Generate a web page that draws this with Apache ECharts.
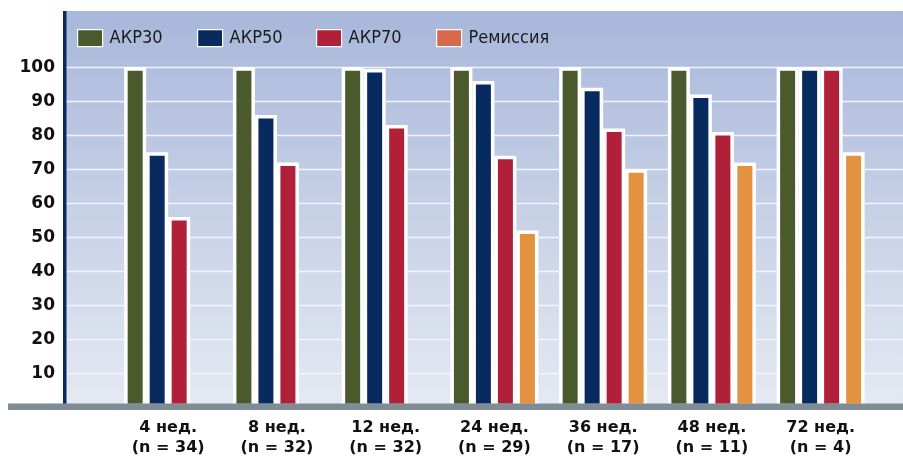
<!DOCTYPE html>
<html>
<head>
<meta charset="utf-8">
<script src="https://cdn.jsdelivr.net/npm/echarts@6/dist/echarts.min.js"></script>
<style>
  html, body { margin: 0; padding: 0; background: #ffffff; }
  #chart { width: 903px; height: 460px; }
</style>
</head>
<body>
<div id="chart"></div>
<script>
// Weeks of therapy and group sizes (x-axis categories)
const weeks = ['4 нед.', '8 нед.', '12 нед.', '24 нед.', '36 нед.', '48 нед.', '72 нед.'];
const patients = [34, 32, 32, 29, 17, 11, 4];

// Response rates, %
const seriesNames = ['АКР30', 'АКР50', 'АКР70', 'Ремиссия'];
const acr30 = [100, 100, 100, 100, 100, 100, 100];
const acr50 = [75, 86, 99.5, 96, 94, 92, 100];
const acr70 = [56, 72, 83, 74, 82, 81, 100];
const remission = [null, null, null, 52, 70, 72, 75];

// Value-axis ticks
const yTicks = [10, 20, 30, 40, 50, 60, 70, 80, 90, 100];

const barColors = ['#4a5a2d', '#072b5e', '#b02039', '#e3923f'];
const legendColors = ['#4a5a2d', '#072b5e', '#b02039', '#d9694c'];
const seriesData = [acr30, acr50, acr70, remission];

const categories = weeks.map((w, i) => w + '\n(n = ' + patients[i] + ')');

const chart = echarts.init(document.getElementById('chart'), null, { renderer: 'canvas' });

const plotTop = 67.3;
const plotBottom = 460 - 407.3;
const legendLeft = [77, 197, 316, 436];

const option = {
  animation: false,
  backgroundColor: '#ffffff',
  graphic: [
    {
      type: 'rect', z: -10,
      shape: { x: 63, y: 11, width: 840, height: 393 },
      style: {
        fill: new echarts.graphic.LinearGradient(0, 0, 0, 1, [
          { offset: 0, color: '#a8b7da' },
          { offset: 1, color: '#e4e9f2' }
        ])
      }
    },
    {
      type: 'rect', z: 20,
      shape: { x: 63, y: 11, width: 3.5, height: 393 },
      style: { fill: '#0a2a5e' }
    },
    {
      type: 'rect', z: 20,
      shape: { x: 8, y: 403.5, width: 895, height: 6.5 },
      style: { fill: '#7f8c95' }
    }
  ],
  legend: seriesNames.map((name, i) => ({
    left: legendLeft[i],
    top: 29,
    padding: 0,
    itemWidth: 25,
    itemHeight: 17,
    icon: 'rect',
    textStyle: {
      fontFamily: 'DejaVu Sans Condensed, DejaVu Sans',
      fontSize: 18,
      color: '#1a1a1a',
      padding: [0, 0, 0, 2]
    },
    data: [{
      name: name,
      itemStyle: { color: legendColors[i], borderColor: '#ffffff', borderWidth: 1.2 }
    }]
  })),
  grid: [
    { left: 66, right: 0, top: plotTop, bottom: plotBottom },
    { left: 113.8, right: 28, top: plotTop, bottom: plotBottom }
  ],
  xAxis: [
    { type: 'value', gridIndex: 0, show: false, min: 0, max: 1 },
    {
      type: 'category', gridIndex: 1, data: categories,
      axisLine: { show: false }, axisTick: { show: false },
      axisLabel: {
        margin: 11,
        fontFamily: 'DejaVu Sans',
        fontWeight: 'bold',
        fontSize: 16,
        lineHeight: 20,
        color: '#111111'
      }
    }
  ],
  yAxis: [
    {
      type: 'value', gridIndex: 0, min: 0, max: 100, interval: 10,
      axisLine: { show: false }, axisTick: { show: false },
      splitLine: { show: true, lineStyle: { color: '#f3f5fa', width: 1.3 } },
      axisLabel: {
        margin: 11,
        fontFamily: 'DejaVu Sans',
        fontWeight: 'bold',
        fontSize: 17,
        color: '#111111',
        formatter: v => (yTicks.indexOf(v) >= 0 ? String(v) : '')
      }
    },
    { type: 'value', gridIndex: 1, min: 0, max: 100, show: false }
  ],
  series: seriesNames.map((name, i) => ({
    name: name,
    type: 'bar',
    xAxisIndex: 1,
    yAxisIndex: 1,
    barWidth: 22,
    barGap: '0%',
    data: seriesData[i],
    itemStyle: {
      color: barColors[i],
      borderColor: '#ffffff',
      borderWidth: 3.5,
      borderJoin: 'miter'
    },
    z: 5
  }))
};

chart.setOption(option);
</script>
</body>
</html>
